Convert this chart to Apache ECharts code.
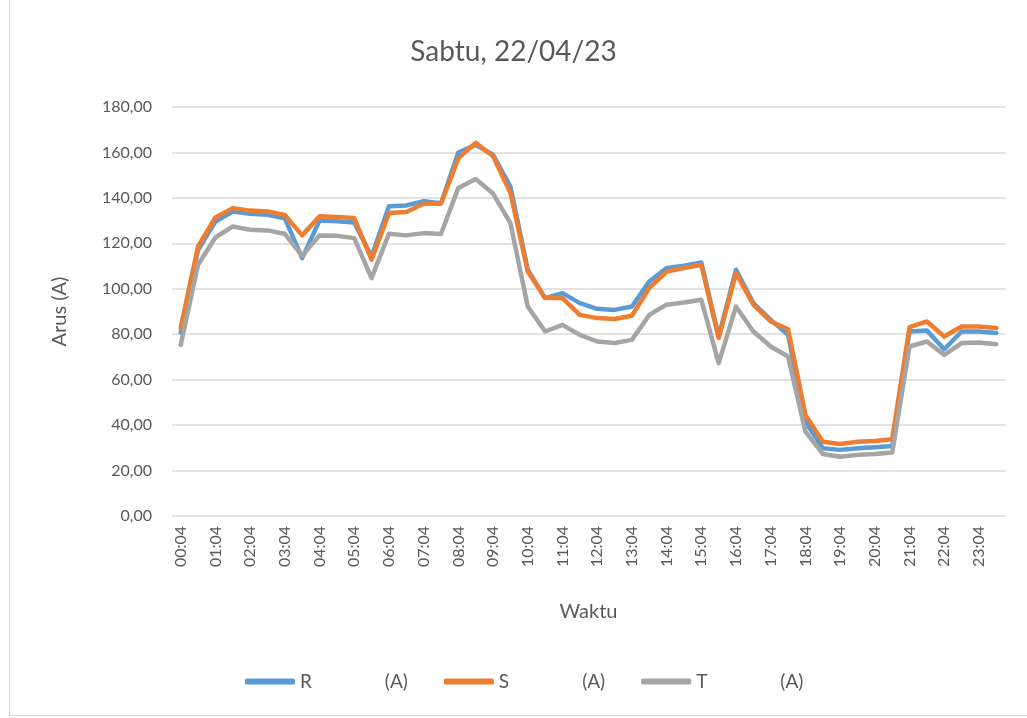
<!DOCTYPE html>
<html>
<head>
<meta charset="utf-8">
<script src="https://cdn.jsdelivr.net/npm/echarts@6/dist/echarts.min.js"></script>
<style>
  html, body { margin: 0; padding: 0; background: #fff; }
  #frame { position: absolute; left: 9px; top: -2px; width: 1030px; height: 716px; border: 1px solid #d9d9d9; }
  #chart { position: absolute; left: 0; top: 0; width: 1027px; height: 718px; }
</style>
</head>
<body>
<div id="frame"></div>
<div id="chart"></div>
<script>
const waktu = [];
for (let h = 0; h < 24; h++) {
  const hh = (h < 10 ? '0' : '') + h;
  waktu.push(hh + ':04', hh + ':34');
}

const arusR = [80.7, 117, 129.6, 134, 133, 132.6, 131, 113.5, 130, 129.7, 129.2, 114.2,
  136.3, 136.7, 138.5, 137.7, 160, 163.4, 159, 145, 108.4, 95.9, 98.1, 93.7,
  91.2, 90.7, 92.2, 103.2, 109.1, 110.1, 111.6, 79, 108.4, 93.7, 86.3, 79.7,
  41.5, 29.8, 29.1, 29.8, 30.3, 30.8, 81.2, 81.6, 73.4, 81.2, 81.2, 80.5];
const arusS = [82.7, 118.6, 131.4, 135.5, 134.4, 134, 132.5, 123.5, 131.9, 131.6, 131.1, 112.8,
  133.3, 133.8, 137.4, 137.4, 157.5, 164.2, 158.3, 142.2, 107.6, 95.9, 95.9, 88.5,
  87.1, 86.7, 88.1, 100.3, 107.6, 109.1, 110.6, 78.3, 106.9, 93, 85.6, 82.2,
  44.5, 32.7, 31.7, 32.7, 33, 33.8, 83.1, 85.6, 79, 83.4, 83.4, 82.7];
const arusT = [75.3, 110.6, 122.6, 127.4, 126, 125.7, 124.2, 114.5, 123.5, 123.3, 122.3, 104.7,
  124.2, 123.5, 124.5, 124.1, 144.4, 148.3, 141.9, 128.9, 92.2, 81.2, 84.1, 79.7,
  76.8, 76.1, 77.5, 88.5, 93, 94, 95.2, 67.3, 92.2, 81.2, 74.6, 70.2,
  37.1, 27.3, 26.1, 26.9, 27.3, 27.9, 74.6, 76.8, 70.9, 76.1, 76.4, 75.6];

const pemisah = '               ';
const namaSeri = ['R' + pemisah + '(A)', 'S' + pemisah + '(A)', 'T' + pemisah + '(A)'];
const warna = ['#5B9BD5', '#ED7D31', '#A5A5A5'];
const teks = '#595959';
const huruf = 'Lato, "Open Sans", sans-serif';

const chart = echarts.init(document.getElementById('chart'));

function seri(i, data) {
  return {
    name: namaSeri[i],
    type: 'line',
    data: data,
    showSymbol: false,
    symbol: 'none',
    lineStyle: { width: 4.5, color: warna[i], join: 'round', cap: 'round' },
    itemStyle: { color: warna[i] }
  };
}

chart.setOption({
  animation: false,
  color: warna,
  textStyle: { fontFamily: huruf },
  title: {
    text: 'Sabtu, 22/04/23',
    left: 'center',
    top: 33,
    textStyle: { color: teks, fontSize: 28, fontWeight: 'normal', fontFamily: huruf }
  },
  legend: {
    bottom: 22,
    left: 240,
    itemWidth: 50,
    itemHeight: 6,
    itemGap: 36,
    icon: 'roundRect',
    textStyle: { color: teks, fontSize: 19, fontFamily: huruf },
    data: namaSeri.map((n, i) => ({ name: n, itemStyle: { color: warna[i] } }))
  },
  grid: { left: 172, right: 22, top: 107, bottom: 202, containLabel: false },
  xAxis: {
    type: 'category',
    data: waktu,
    boundaryGap: true,
    name: 'Waktu',
    nameLocation: 'middle',
    nameGap: 86,
    nameTextStyle: { color: teks, fontSize: 20, fontFamily: huruf },
    axisLine: { show: false },
    axisTick: { show: false },
    axisLabel: { interval: 1, rotate: 90, color: teks, fontSize: 16, margin: 10, fontFamily: huruf }
  },
  yAxis: {
    type: 'value',
    min: 0,
    max: 180,
    interval: 20,
    name: 'Arus (A)',
    nameLocation: 'middle',
    nameGap: 102,
    nameTextStyle: { color: teks, fontSize: 20, fontFamily: huruf },
    axisLine: { show: false },
    axisTick: { show: false },
    axisLabel: {
      color: teks, fontSize: 16, margin: 20, fontFamily: huruf,
      formatter: v => v.toFixed(2).replace('.', ',')
    },
    splitLine: { lineStyle: { color: '#d9d9d9', width: 1.5 } }
  },
  series: [seri(0, arusR), seri(1, arusS), seri(2, arusT)]
});
</script>
</body>
</html>
